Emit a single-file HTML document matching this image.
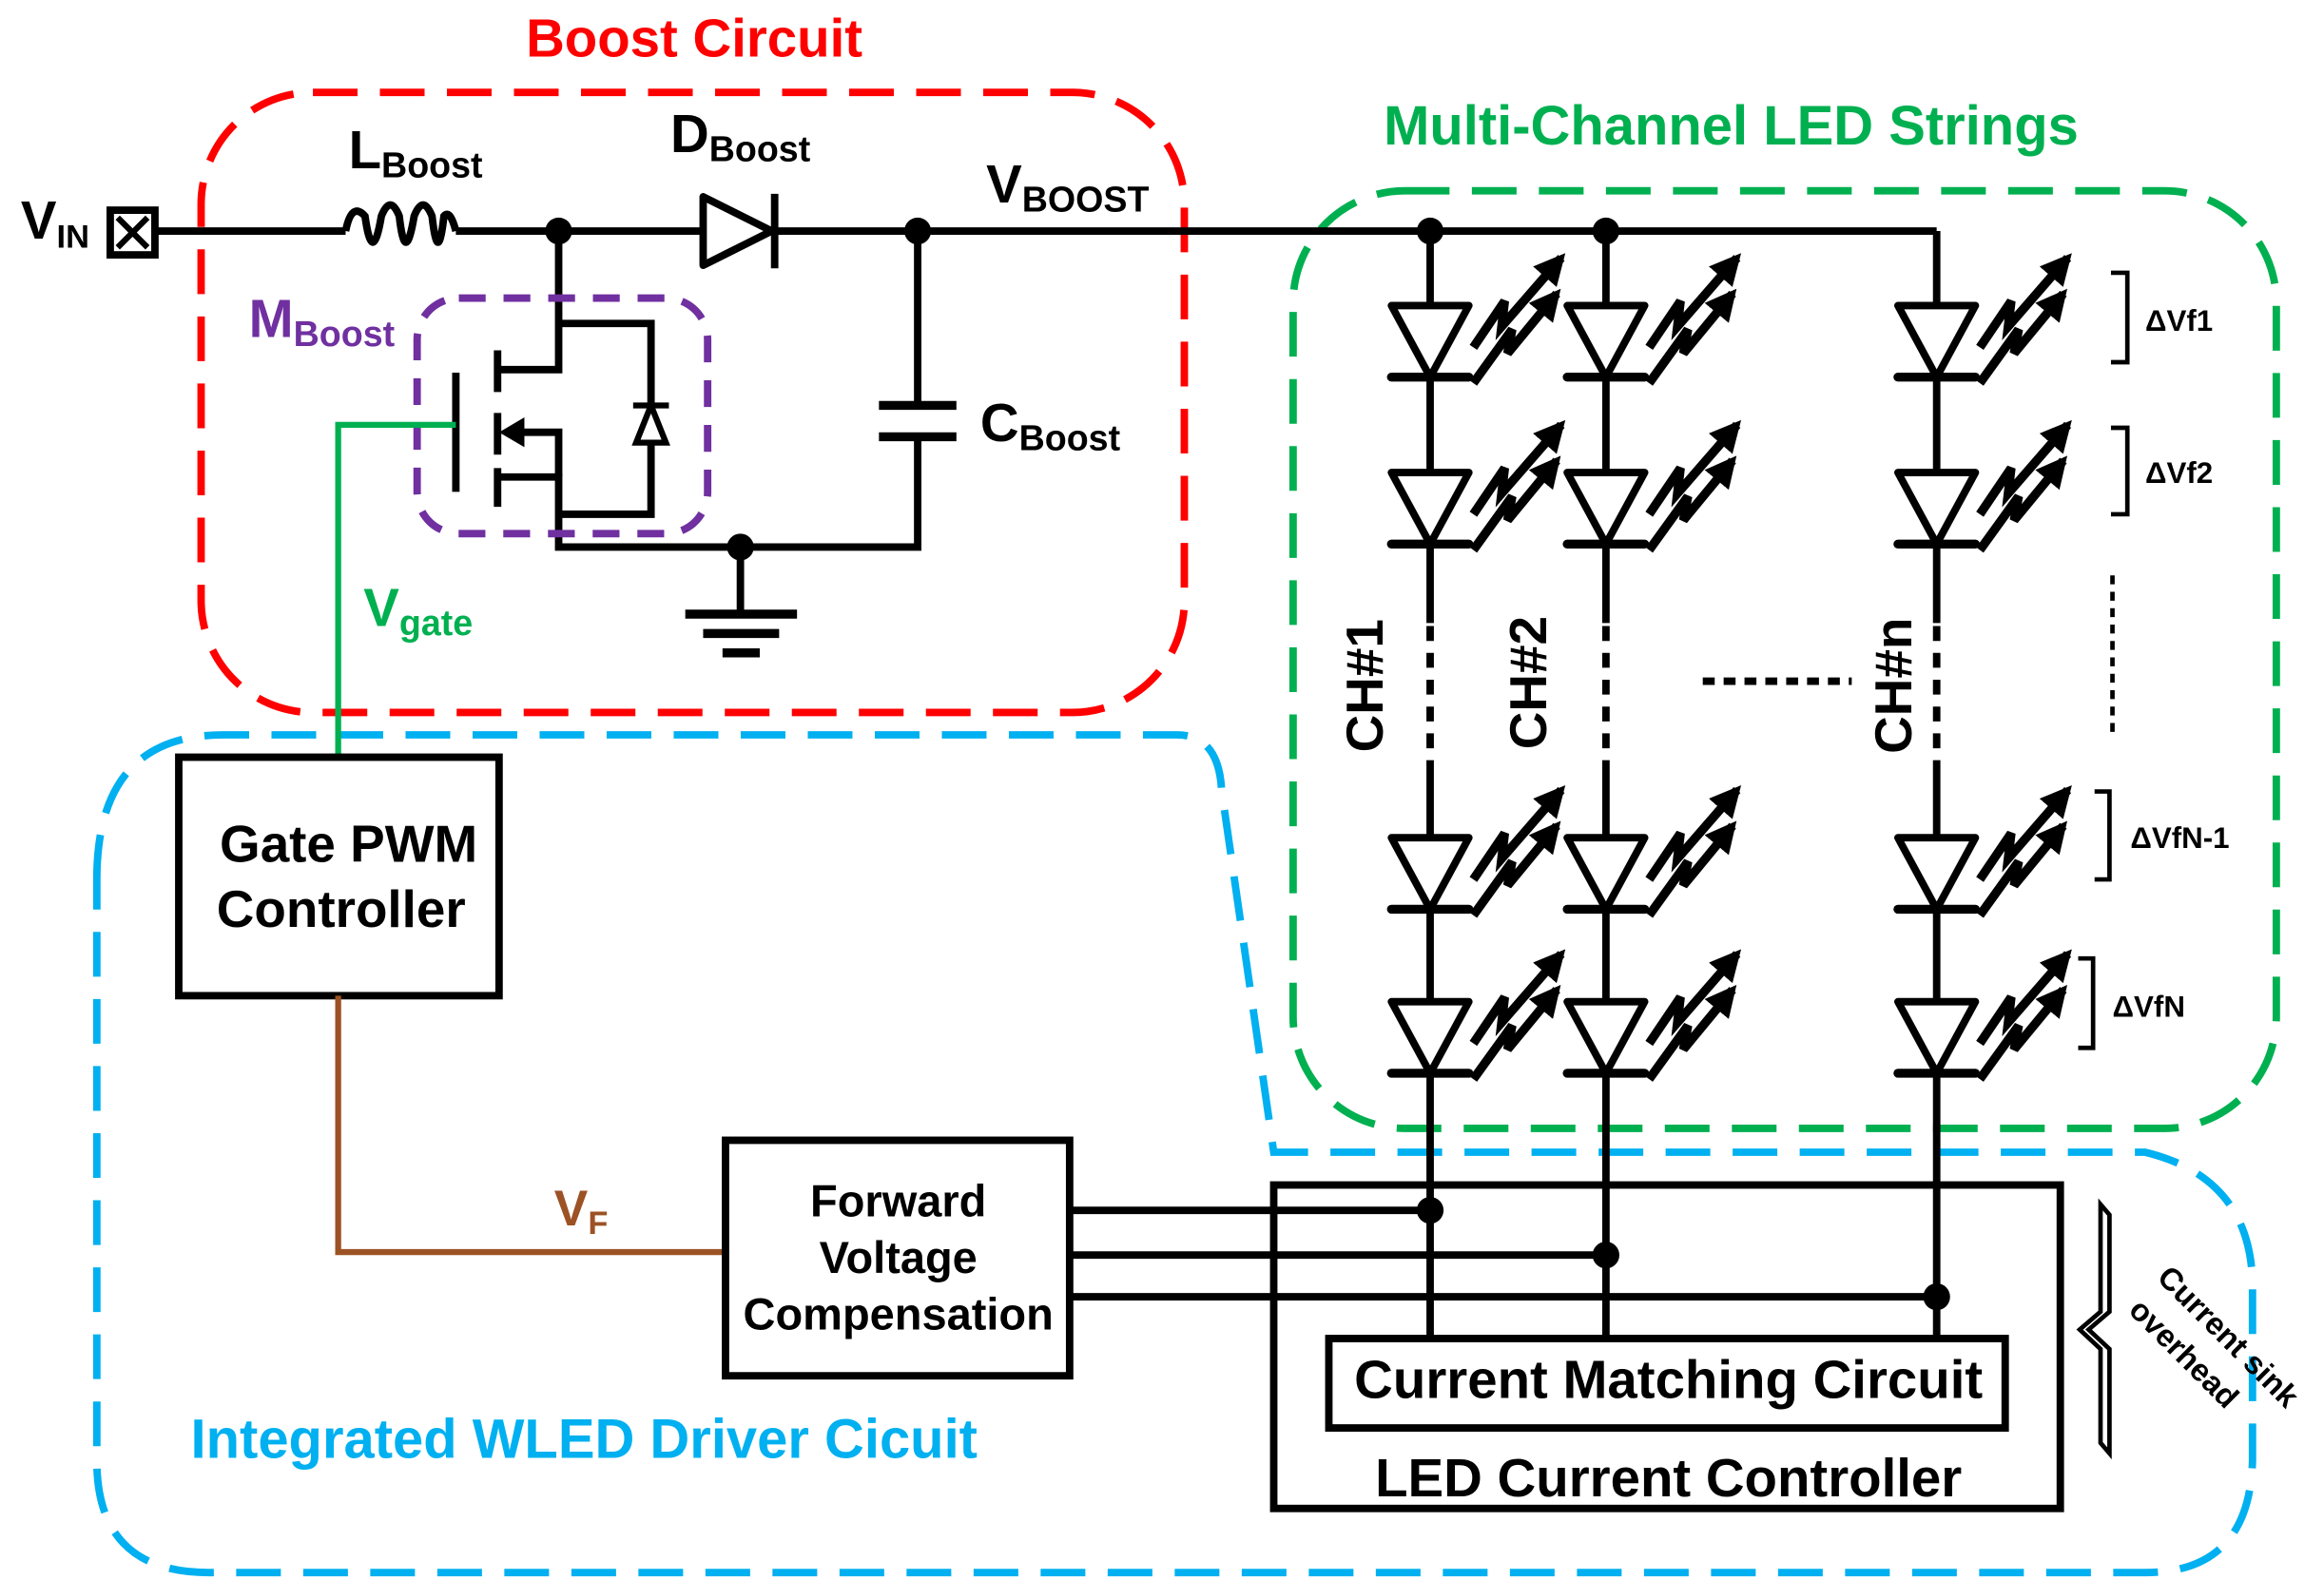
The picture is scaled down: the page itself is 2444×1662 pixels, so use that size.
<!DOCTYPE html>
<html><head><meta charset="utf-8"><style>
html,body{margin:0;padding:0;background:#fff;}
svg{display:block;}
text{font-family:"Liberation Sans",Arial,sans-serif;font-weight:bold;}
</style></head><body>
<svg width="2444" height="1662" viewBox="0 0 1560 1060" preserveAspectRatio="none" xmlns="http://www.w3.org/2000/svg">
<defs>
<marker id="ah" viewBox="0 0 10 10" refX="8" refY="5" markerWidth="3.5" markerHeight="3.5" orient="auto"><path d="M0,0 L10,5 L0,10 z" fill="#000"/></marker>
<g id="led">
<path d="M-26,0 L26,0 L0,48 Z" fill="#fff" stroke="#000" stroke-width="5" stroke-linejoin="round"/>
<line x1="-26" y1="48" x2="26" y2="48" stroke="#000" stroke-width="6" stroke-linecap="round"/>
<polyline points="29,28 50,-3 48,14 88,-32" fill="none" stroke="#000" stroke-width="6" marker-end="url(#ah)"/>
<polyline points="29,52 55,16 52,32 85,-8" fill="none" stroke="#000" stroke-width="6" marker-end="url(#ah)"/>
</g>
</defs>

<text x="466" y="38" font-size="36" fill="#ff0000" text-anchor="middle">Boost Circuit</text>
<rect x="135" y="62" width="660" height="416" rx="75" fill="none" stroke="#ff0000" stroke-width="5" stroke-dasharray="30 15"/>

<text x="1162" y="97" font-size="37" fill="#00b050" text-anchor="middle">Multi-Channel LED Strings</text>
<rect x="868" y="128" width="660" height="629" rx="75" fill="none" stroke="#00b050" stroke-width="5" stroke-dasharray="30 15"/>

<path d="M65 590 Q65 493 150 493 L790 493 Q818 493 820 530 L855 773 L1440 773 Q1510 790 1512 860 L1512 980 Q1510 1055 1440 1055 L140 1055 Q65 1055 65 980 Z" fill="none" stroke="#00b0f0" stroke-width="5" stroke-dasharray="30 15"/>
<text x="128" y="978" font-size="37" fill="#00b0f0">Integrated WLED Driver Cicuit</text>

<text x="14" y="160" font-size="36" fill="#000" font-weight="normal">V<tspan font-size="22" dy="6">IN</tspan></text>
<rect x="74" y="141" width="30" height="30" fill="none" stroke="#000" stroke-width="5"/>
<path d="M79 146 L99 166 M99 146 L79 166" stroke="#000" stroke-width="4"/>

<g stroke="#000" stroke-width="5" fill="none">
<line x1="104" y1="155" x2="232" y2="155"/>
<path d="M232 155 Q236 135 245 145 Q250 180 256 145 Q262 130 268 145 Q272 180 278 145 Q284 130 290 145 Q294 180 298 145 Q302 140 306 155"/>
<line x1="306" y1="155" x2="470" y2="155"/>
<line x1="522" y1="155" x2="1300" y2="155"/>
<line x1="1300" y1="155" x2="1300" y2="898"/>
<line x1="960" y1="155" x2="960" y2="898"/>
<line x1="1078" y1="155" x2="1078" y2="898"/>
</g>
<path d="M472 132 L472 178 L518 155 Z" fill="#fff" stroke="#000" stroke-width="5" stroke-linejoin="round"/>
<line x1="520" y1="130" x2="520" y2="180" stroke="#000" stroke-width="5"/>
<text x="450" y="102" font-size="36" fill="#000" font-weight="normal">D<tspan font-size="24" dy="6">Boost</tspan></text>
<text x="234" y="113" font-size="36" fill="#000" font-weight="normal">L<tspan font-size="24" dy="6">Boost</tspan></text>
<text x="662" y="136" font-size="36" fill="#000" font-weight="normal">V<tspan font-size="24" dy="6">BOOST</tspan></text>
<g fill="#000">
<circle cx="375" cy="155" r="9"/><circle cx="616" cy="155" r="9"/>
<circle cx="960" cy="155" r="9"/><circle cx="1078" cy="155" r="9"/>
<circle cx="497" cy="367" r="9"/>
</g>

<g stroke="#000" stroke-width="5" fill="none">
<polyline points="375,155 375,248 334,248"/>
<polyline points="375,217 437,217 437,345 375,345"/>
<polyline points="334,320 375,320 375,367 616,367 616,293"/>
<polyline points="345,290 375,290 375,320"/>
<line x1="616" y1="155" x2="616" y2="272"/>
<line x1="590" y1="272" x2="642" y2="272" stroke-width="6"/>
<line x1="590" y1="293" x2="642" y2="293" stroke-width="6"/>
<line x1="334" y1="235" x2="334" y2="263"/>
<line x1="334" y1="277" x2="334" y2="305"/>
<line x1="334" y1="314" x2="334" y2="340"/>
<line x1="306" y1="250" x2="306" y2="330"/>
<line x1="497" y1="367" x2="497" y2="412"/>
<line x1="460" y1="412" x2="535" y2="412" stroke-width="6"/>
<line x1="472" y1="425" x2="523" y2="425" stroke-width="6"/>
<line x1="485" y1="438" x2="510" y2="438" stroke-width="6"/>
</g>
<path d="M335 290 L352 280 L352 300 Z" fill="#000"/>
<path d="M437 272 L427 297 L447 297 Z" fill="#fff" stroke="#000" stroke-width="4"/>
<line x1="425" y1="272" x2="449" y2="272" stroke="#000" stroke-width="4"/>
<rect x="280" y="200" width="195" height="158" rx="28" fill="none" stroke="#7030a0" stroke-width="5" stroke-dasharray="18 12"/>
<text x="167" y="226" font-size="36" fill="#7030a0" font-weight="normal">M<tspan font-size="24" dy="6">Boost</tspan></text>
<text x="658" y="296" font-size="36" fill="#000" font-weight="normal">C<tspan font-size="24" dy="6">Boost</tspan></text>

<polyline points="306,285 227,285 227,510" fill="none" stroke="#00b050" stroke-width="4"/>
<text x="244" y="420" font-size="36" fill="#00b050" font-weight="normal">V<tspan font-size="24" dy="6">gate</tspan></text>

<rect x="120" y="508" width="215" height="160" fill="#fff" stroke="#000" stroke-width="5"/>
<text x="234" y="578" font-size="35" text-anchor="middle">Gate PWM</text>
<text x="229" y="622" font-size="35" text-anchor="middle">Controller</text>

<polyline points="227,668 227,840 487,840" fill="none" stroke="#9c5224" stroke-width="4"/>
<text x="372" y="822" font-size="34" fill="#9c5224" font-weight="normal">V<tspan font-size="22" dy="6">F</tspan></text>

<rect x="487" y="765" width="231" height="158" fill="#fff" stroke="#000" stroke-width="5"/>
<text x="603" y="816" font-size="30" text-anchor="middle">Forward</text>
<text x="603" y="854" font-size="30" text-anchor="middle">Voltage</text>
<text x="603" y="892" font-size="30" text-anchor="middle">Compensation</text>

<rect x="855" y="795" width="528" height="217" fill="none" stroke="#000" stroke-width="5"/>
<g stroke="#000" stroke-width="5">
<line x1="718" y1="812" x2="960" y2="812"/>
<line x1="718" y1="842" x2="1078" y2="842"/>
<line x1="718" y1="870" x2="1300" y2="870"/>
</g>
<g fill="#000"><circle cx="960" cy="812" r="9"/><circle cx="1078" cy="842" r="9"/><circle cx="1300" cy="870" r="9"/></g>
<rect x="892" y="898" width="454" height="60" fill="#fff" stroke="#000" stroke-width="5"/>
<text x="1120" y="938" font-size="36" text-anchor="middle">Current Matching Circuit</text>
<text x="1120" y="1004" font-size="36" text-anchor="middle">LED Current Controller</text>

<g stroke="#fff" stroke-width="9">
<line x1="960" y1="418" x2="960" y2="515"/>
<line x1="1078" y1="418" x2="1078" y2="515"/>
<line x1="1300" y1="418" x2="1300" y2="515"/>
</g>
<g stroke="#000" stroke-width="5" stroke-dasharray="10 8">
<line x1="960" y1="420" x2="960" y2="515"/>
<line x1="1078" y1="420" x2="1078" y2="515"/>
<line x1="1300" y1="420" x2="1300" y2="515"/>
</g>
<line x1="1143" y1="457" x2="1243" y2="457" stroke="#000" stroke-width="5" stroke-dasharray="8 6"/>
<line x1="1418" y1="386" x2="1418" y2="495" stroke="#000" stroke-width="3" stroke-dasharray="6 5"/>

<use href="#led" x="960" y="205"/><use href="#led" x="1078" y="205"/><use href="#led" x="1300" y="205"/>
<use href="#led" x="960" y="317"/><use href="#led" x="1078" y="317"/><use href="#led" x="1300" y="317"/>
<use href="#led" x="960" y="562"/><use href="#led" x="1078" y="562"/><use href="#led" x="1300" y="562"/>
<use href="#led" x="960" y="672"/><use href="#led" x="1078" y="672"/><use href="#led" x="1300" y="672"/>

<text transform="translate(928,460) rotate(-90)" font-size="35" text-anchor="middle">CH#1</text>
<text transform="translate(1038,458) rotate(-90)" font-size="35" text-anchor="middle">CH#2</text>
<text transform="translate(1283,460) rotate(-90)" font-size="35" text-anchor="middle">CH#n</text>

<g stroke="#000" stroke-width="3" fill="none">
<polyline points="1417,183 1428,183 1428,243 1417,243"/>
<polyline points="1417,287 1428,287 1428,345 1417,345"/>
<polyline points="1406,531 1416,531 1416,590 1406,590"/>
<polyline points="1395,643 1405,643 1405,703 1395,703"/>
<path d="M1410 808 L1416 815 L1416 880 L1402 892 L1416 905 L1416 975 L1410 968 L1410 905 L1396 892 L1410 880 Z"/>
</g>
<g font-size="20" fill="#000">
<text x="1440" y="222">ΔVf1</text>
<text x="1440" y="324">ΔVf2</text>
<text x="1430" y="569">ΔVfN-1</text>
<text x="1418" y="682">ΔVfN</text>
</g>
<text transform="translate(1447,858) rotate(45)" font-size="21">Current sink</text>
<text transform="translate(1428,880) rotate(45)" font-size="21">overhead</text>
</svg>
</body></html>
